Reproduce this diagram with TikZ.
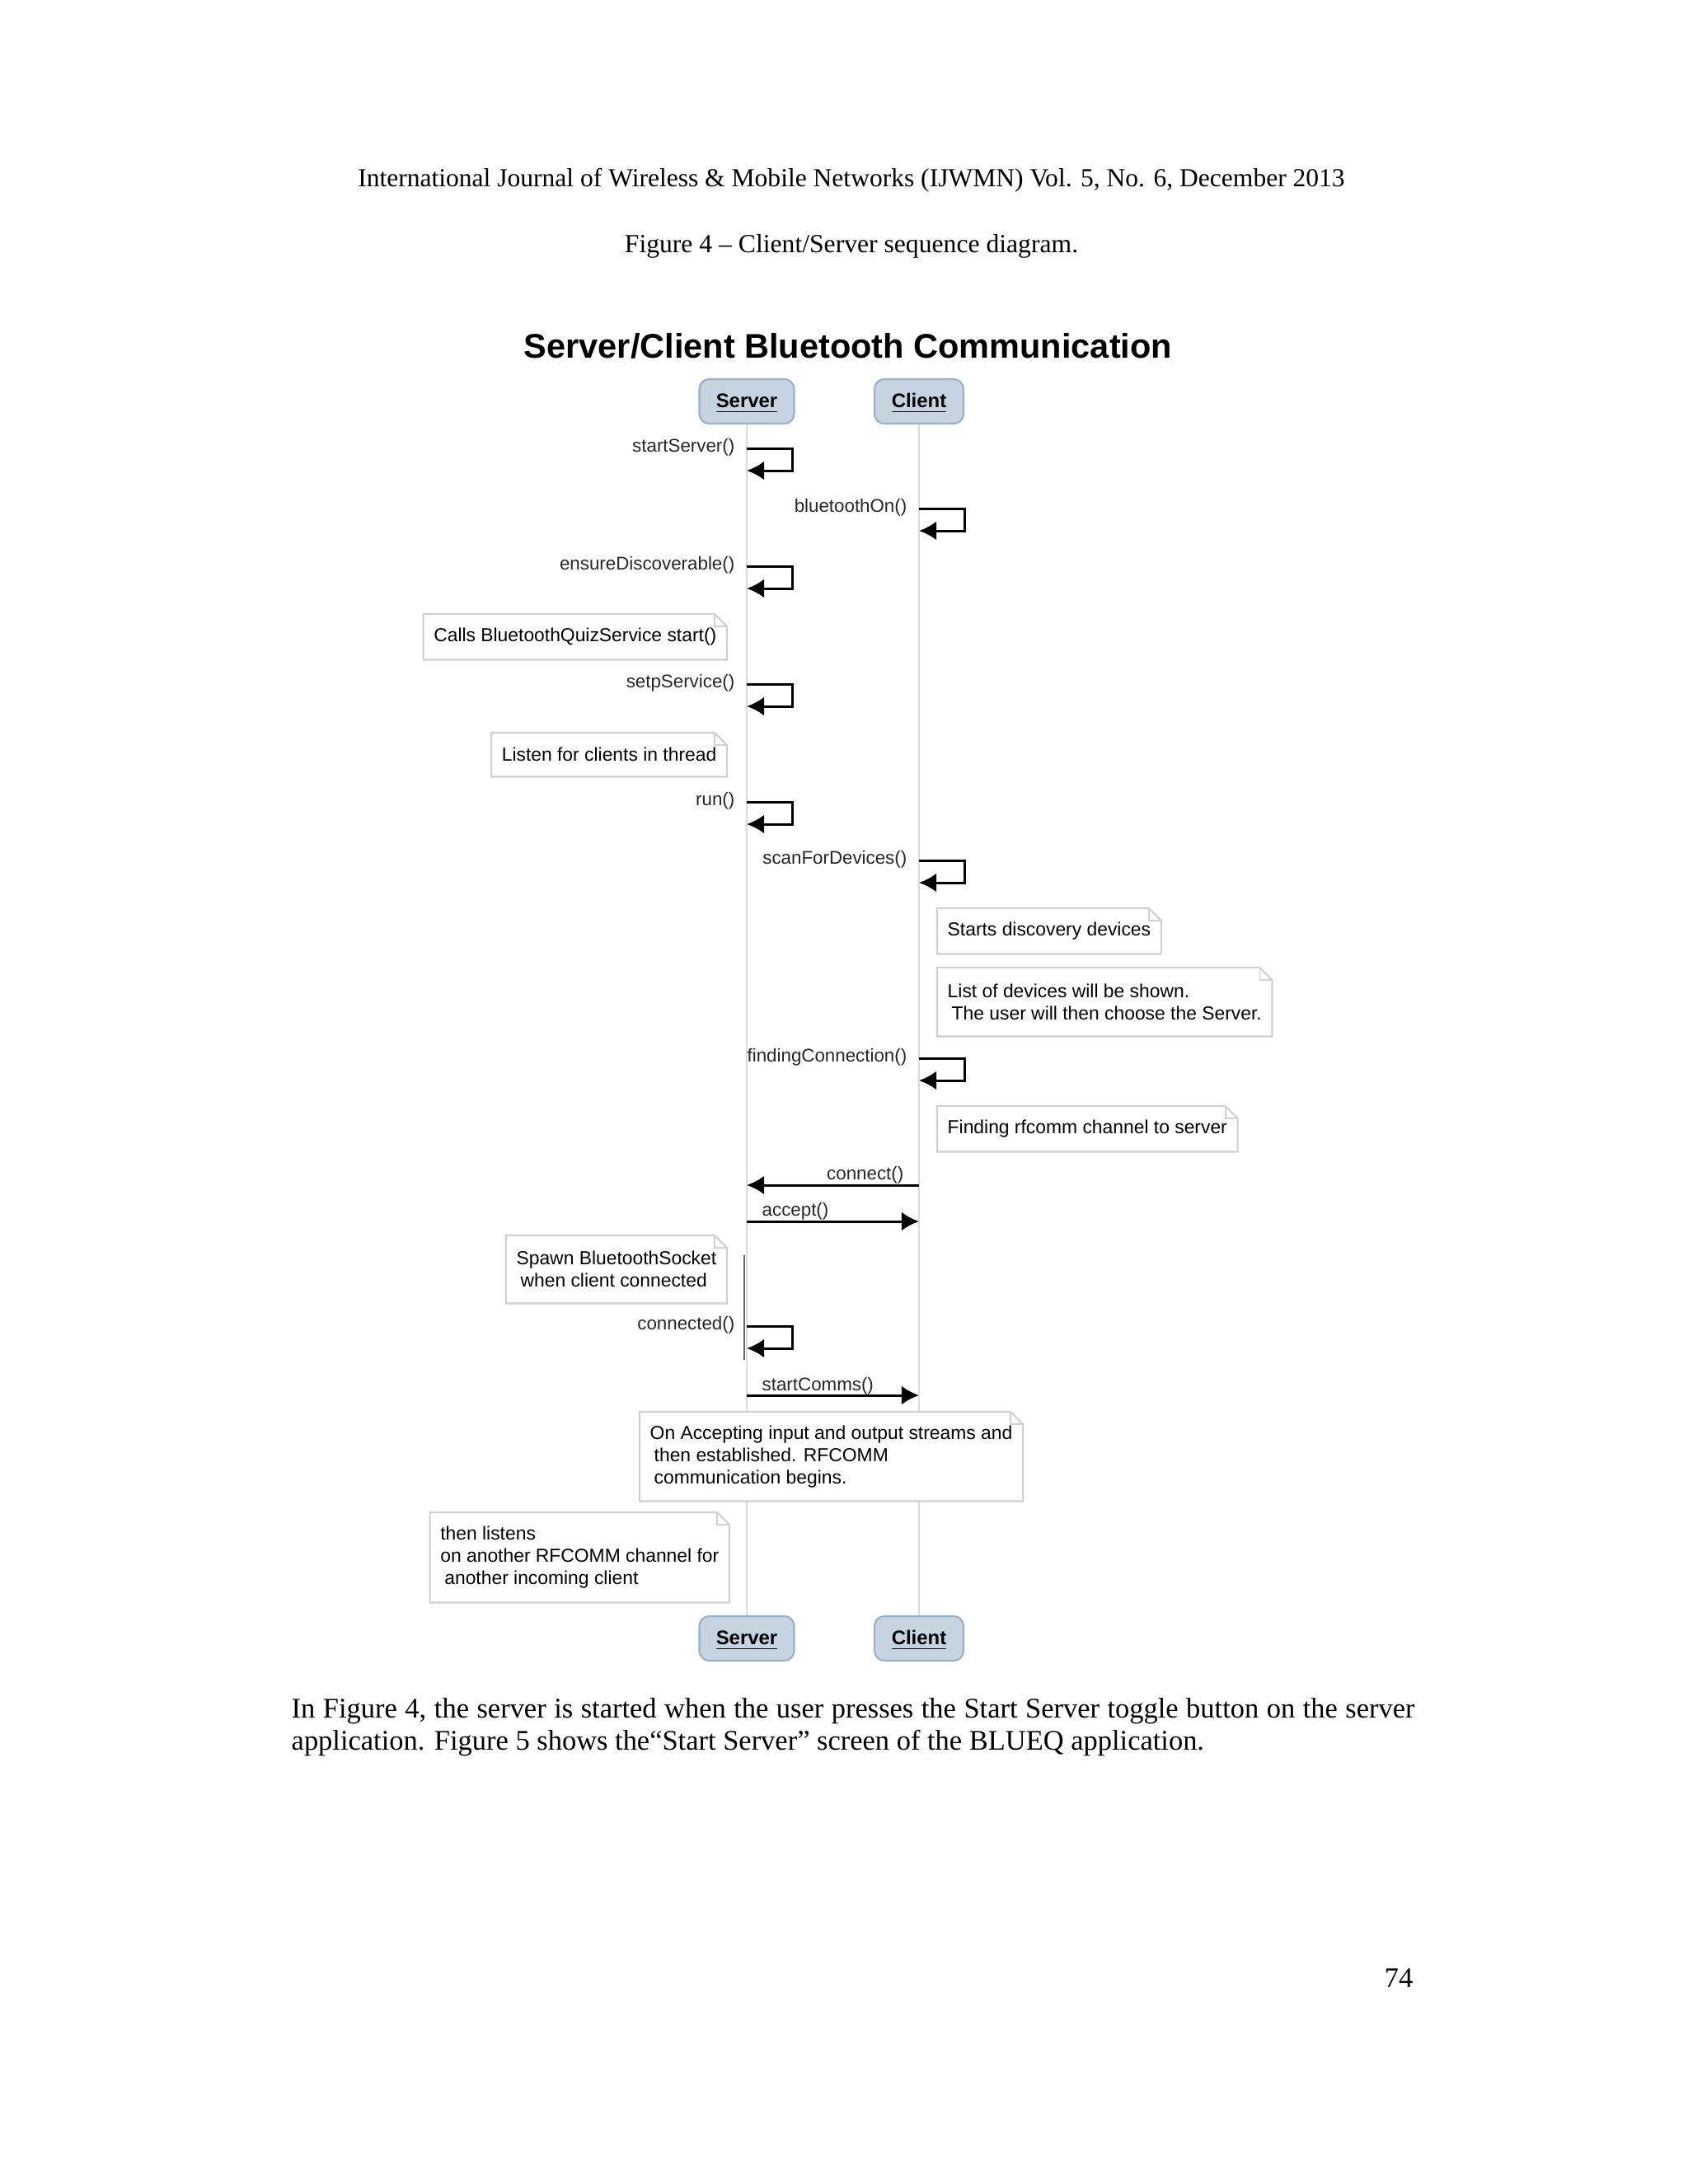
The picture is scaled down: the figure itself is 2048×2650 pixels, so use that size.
\documentclass[tikz,border=0pt]{standalone}
\usepackage{fontspec}
\setmainfont{Liberation Serif}
\setsansfont{Liberation Sans}
\usetikzlibrary{calc,positioning,arrows.meta}
\definecolor{headfill}{HTML}{C6D4E1}
\definecolor{headline}{HTML}{9BB0C6}
\definecolor{notegray}{HTML}{D0D0D0}
\definecolor{lifegray}{HTML}{DADADA}
\newcommand{\lblfont}{\sffamily\fontsize{6.35}{7.7}\selectfont}
\newcommand{\notefont}{\sffamily\fontsize{6.5}{7.7}\selectfont}
% outline of a note with its folded corner
\newcommand{\notefold}[1]{%
  \draw[notegray, line width=0.6pt] (#1.north west) -- ($(#1.north east)+(-15,0)$) -- ($(#1.north east)+(0,15)$) -- (#1.south east) -- (#1.south west) -- cycle;
  \draw[notegray, line width=0.5pt] ($(#1.north east)+(-15,0)$) |- ($(#1.north east)+(0,15)$);}

\begin{document}
\begin{tikzpicture}[x=0.01cm, y=-0.01cm,
    >={Latex[length=6pt,width=6.5pt]},
    head/.style={draw=headline, fill=headfill, rounded corners=0.12cm, line width=0.6pt,
                 minimum height=0.54cm, text depth=0.05cm, text height=0.2cm,
                 font=\sffamily\bfseries\fontsize{6.8}{7.7}\selectfont},
    note/.style={fill=white, inner xsep=0.12cm, inner ysep=0pt, align=left, font=\notefont},
    lbl/.style={font=\lblfont, text=black!85, inner sep=0pt},
    msg/.style={->, line width=0.85pt, black}]

    \useasboundingbox (0,0) rectangle (2048,2650);

    % page text
    \node (journal) at (1033,219) {\fontsize{8.97}{11}\selectfont International Journal of Wireless \& Mobile Networks (IJWMN) Vol. 5, No. 6, December 2013};
    \node (caption) at (1033,299) {\fontsize{9}{11}\selectfont Figure 4 – Client/Server sequence diagram.};
    \node (title) at (1029,420) {\sffamily\bfseries\fontsize{11.8}{14}\selectfont Server/Client Bluetooth Communication};

    % lifelines
    \node[head, minimum width=1.15cm] (srvtop) at (906,487) {\underline{Server}};
    \node[head, minimum width=1.08cm] (clitop) at (1115,487) {\underline{Client}};
    \node[head, minimum width=1.15cm] (srvbot) at (906,1988) {\underline{Server}};
    \node[head, minimum width=1.08cm] (clibot) at (1115,1988) {\underline{Client}};
    \draw[lifegray, line width=0.8pt] (srvtop.south) -- (srvbot.north);
    \draw[lifegray, line width=0.8pt] (clitop.south) -- (clibot.north);
    \coordinate (acttop) at (903,1523);
    \coordinate (actbot) at (903,1650);
    \draw[black!60, line width=0.5pt] (acttop) -- (actbot);

    % self messages
    \foreach \lx/\ly/\txt/\nm in {906/544/startServer()/sa, 1115/617/bluetoothOn()/sb,
        906/687/ensureDiscoverable()/sc, 906/830/setpService()/sd, 906/973/run()/se,
        1115/1044/scanForDevices()/sf, 1115/1284/findingConnection()/sg, 906/1609/connected()/sh}
    {
        \coordinate (\nm out) at (\lx,\ly);
        \coordinate (\nm in) at (\lx,\ly+27);
        \draw[msg] (\nm out) -- ++(55,0) |- (\nm in);
        \node[lbl, anchor=east] at ($(\nm out)+(-14,-1)$) {\txt};
    }

    % messages between the two
    \coordinate (cona) at (1115,1438);
    \coordinate (conb) at (906,1438);
    \coordinate (acca) at (906,1482);
    \coordinate (accb) at (1115,1482);
    \coordinate (coma) at (906,1693);
    \coordinate (comb) at (1115,1693);
    \draw[msg] (cona) -- (conb);
    \draw[msg] (acca) -- (accb);
    \draw[msg] (coma) -- (comb);
    \node[lbl, anchor=east] at (1097,1426) {connect()};
    \node[lbl, anchor=west] at (924,1470) {accept()};
    \node[lbl, anchor=west] at (924,1682) {startComms()};

    % notes
    \node[note, anchor=north east, minimum height=0.54cm] (calls) at (882,745) {Calls BluetoothQuizService start()};
    \node[note, anchor=north east, minimum height=0.52cm] (listen) at (882,889) {Listen for clients in thread};
    \node[note, anchor=north west, minimum height=0.54cm] (starts) at (1137,1102) {Starts discovery devices};
    \node[note, anchor=north west, minimum height=0.82cm] (devlist) at (1137,1174) {List of devices will be shown.\\\hspace{0.05cm}The user will then choose the Server.};
    \node[note, anchor=north west, minimum height=0.54cm] (finding) at (1137,1342) {Finding rfcomm channel to server};
    \node[note, anchor=north east, minimum height=0.81cm] (spawn) at (882,1499) {Spawn BluetoothSocket\\\hspace{0.05cm}when client connected};
    \node[note, anchor=north west, minimum height=1.07cm] (streams) at (776,1713) {On Accepting input and output streams and\\\hspace{0.05cm}then established. RFCOMM\\\hspace{0.05cm}communication begins.};
    \node[note, anchor=north east, minimum height=1.08cm] (listens) at (885,1835) {then listens\\on another RFCOMM channel for\\\hspace{0.05cm}another incoming client};
    \foreach \nt in {calls, listen, starts, devlist, finding, spawn, streams, listens}
        {\notefold{\nt}}

    % body text
    \node[anchor=west, inner sep=0pt] (body1) at (353,2076) {\fontsize{9.8}{12}\selectfont\makebox[13.62cm][s]{In Figure 4, the server is started when the user presses the Start Server toggle button on the server}};
    \node[anchor=west, inner sep=0pt] (body2) at (353,2115) {\fontsize{9.8}{12}\selectfont application. Figure 5 shows the“Start Server” screen of the BLUEQ application.};
    \node[anchor=east, inner sep=0pt] (pageno) at (1715,2400) {\fontsize{9.8}{12}\selectfont 74};

\end{tikzpicture}
\end{document}
